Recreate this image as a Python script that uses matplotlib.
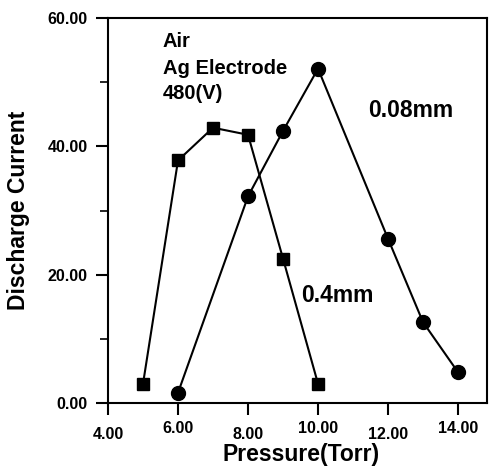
import numpy as np
import matplotlib
matplotlib.use("Agg")
import matplotlib.pyplot as plt
from matplotlib.ticker import MultipleLocator, FormatStrFormatter

plt.rcParams['font.family'] = ['Liberation Sans', 'DejaVu Sans']
plt.rcParams['font.weight'] = 'bold'

# 0.4mm gap (squares)
p_04 = [5, 6, 7, 8, 9, 10]
i_04 = [3.0, 37.8, 42.9, 41.8, 22.5, 3.0]

# 0.08mm gap (circles)
p_008 = [6, 8, 9, 10, 12, 13, 14]
i_008 = [1.6, 32.2, 42.4, 52.1, 25.6, 12.6, 4.8]

fig = plt.figure(figsize=(4.91, 4.67), dpi=100)
ax = fig.add_axes([0.22, 0.137, 0.772, 0.8245])

ax.plot(p_04, i_04, '-s', color='black', lw=1.5, ms=8.5, mfc='black')
ax.plot(p_008, i_008, '-o', color='black', lw=1.5, ms=10, mfc='black')

ax.set_xlim(4, 14.83)
ax.set_ylim(0, 60)
ax.xaxis.set_major_locator(MultipleLocator(2))
ax.yaxis.set_major_locator(MultipleLocator(20))
ax.yaxis.set_minor_locator(MultipleLocator(10))
ax.xaxis.set_major_formatter(FormatStrFormatter('%.2f'))
ax.yaxis.set_major_formatter(FormatStrFormatter('%.2f'))

ax.tick_params(axis='both', which='major', direction='out', length=8.6, width=1.5,
               labelsize=11.5, pad=6)
ax.tick_params(axis='y', which='minor', direction='out', length=5.8, width=1.2)
ax.tick_params(axis='x', pad=9)
for sp in ax.spines.values():
    sp.set_linewidth(1.5)

# the scanned labels bounce up and down a little
fig.canvas.draw()
for t in ax.xaxis.get_major_ticks():
    if round(t.get_loc()) in (6, 10, 14):
        t.label1.set_y(0.018)

ax.set_xlabel('Pressure(Torr)', fontsize=16.5, fontweight='bold')
ax.set_ylabel('Discharge Current', fontsize=16.5, fontweight='bold')
ax.xaxis.set_label_coords(0.509, -0.105)
ax.yaxis.set_label_coords(-0.206, 0.5)

ax.text(5.56, 55.4, 'Air', fontsize=14.5, fontweight='bold', va='baseline')
ax.text(5.56, 51.3, 'Ag Electrode', fontsize=14.5, fontweight='bold', va='baseline')
ax.text(5.56, 47.3, '480(V)', fontsize=14.5, fontweight='bold', va='baseline')
ax.text(11.43, 44.5, '0.08mm', fontsize=16.5, fontweight='bold', va='baseline')
ax.text(9.53, 15.75, '0.4mm', fontsize=16.5, fontweight='bold', va='baseline')

fig.savefig('out.png', dpi=100)
